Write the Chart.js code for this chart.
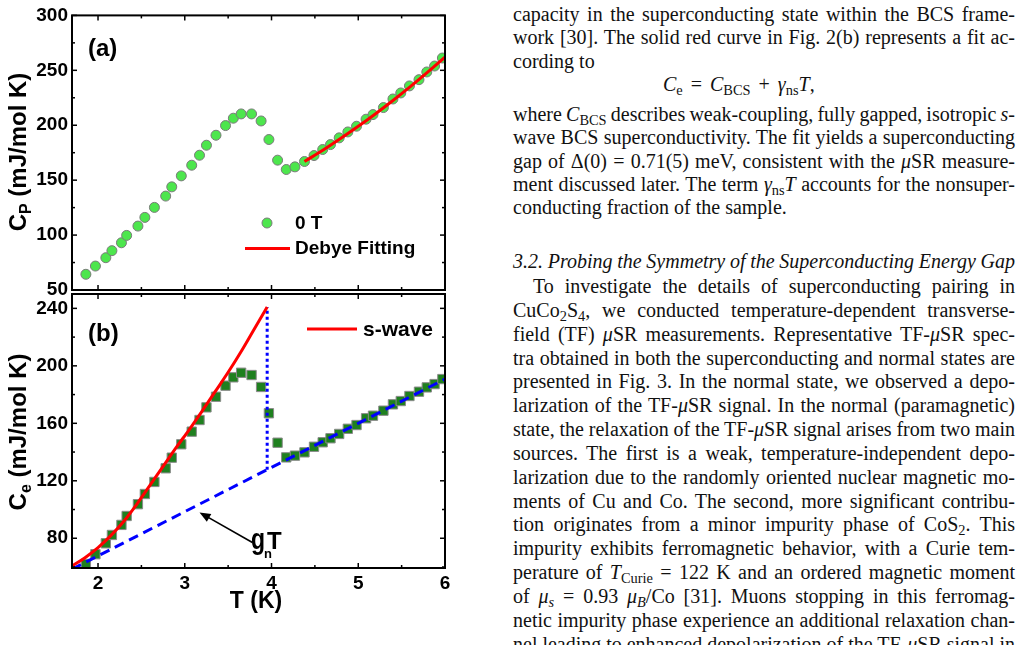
<!DOCTYPE html>
<html><head><meta charset="utf-8">
<script src="https://cdn.jsdelivr.net/npm/chart.js@4.4.1/dist/chart.umd.min.js"></script>
<style>
html,body{margin:0;padding:0;background:#fff;width:1022px;height:645px;overflow:hidden;position:relative}
canvas{position:absolute;left:0}
#ca{top:0}
#cb{top:275px}
.txt{position:absolute;left:513px;width:502px;font-family:"Liberation Serif","Times New Roman",serif;font-size:20px;color:#111}
.ln{height:23.3px;line-height:23.3px;white-space:nowrap}
.ln span.in{display:inline-block}
.b3 .ln{height:23.85px;line-height:23.85px}
.ind{padding-left:20px}
.op{margin:0 8px}
sub{font-size:0.72em;vertical-align:-0.25em;line-height:0}
</style>
</head><body>
<canvas id="ca" width="460" height="306"></canvas>
<canvas id="cb" width="460" height="370"></canvas>

<div class="txt" style="top:3px">
<div class="ln j"><span class="in">capacity in the superconducting state within the BCS frame-</span></div>
<div class="ln j"><span class="in">work [30]. The solid red curve in Fig. 2(b) represents a fit ac-</span></div>
<div class="ln"><span class="in">cording to</span></div>
</div>
<div class="txt" style="top:73px;left:663px;width:220px"><div class="ln"><i>C</i><sub>e</sub><span class="op">=</span><i>C</i><sub>BCS</sub><span class="op">+</span><i>γ</i><sub>ns</sub><i>T</i>,</div></div>
<div class="txt" style="top:103px">
<div class="ln j"><span class="in">where <i>C</i><sub>BCS</sub> describes weak-coupling, fully gapped, isotropic <i>s</i>-</span></div>
<div class="ln j"><span class="in">wave BCS superconductivity. The fit yields a superconducting</span></div>
<div class="ln j"><span class="in">gap of Δ(0) = 0.71(5) meV, consistent with the <i>μ</i>SR measure-</span></div>
<div class="ln j"><span class="in">ment discussed later. The term <i>γ</i><sub>ns</sub><i>T</i> accounts for the nonsuper-</span></div>
<div class="ln"><span class="in">conducting fraction of the sample.</span></div>
</div>
<div class="txt" style="top:250px"><div class="ln j"><span class="in"><i>3.2. Probing the Symmetry of the Superconducting Energy Gap</i></span></div></div>
<div class="txt b3" style="top:275px">
<div class="ln j ind"><span class="in">To investigate the details of superconducting pairing in</span></div>
<div class="ln j"><span class="in">CuCo<sub>2</sub>S<sub>4</sub>, we conducted temperature-dependent transverse-</span></div>
<div class="ln j"><span class="in">field (TF) <i>μ</i>SR measurements. Representative TF-<i>μ</i>SR spec-</span></div>
<div class="ln j"><span class="in">tra obtained in both the superconducting and normal states are</span></div>
<div class="ln j"><span class="in">presented in Fig. 3. In the normal state, we observed a depo-</span></div>
<div class="ln j"><span class="in">larization of the TF-<i>μ</i>SR signal. In the normal (paramagnetic)</span></div>
<div class="ln j"><span class="in">state, the relaxation of the TF-<i>μ</i>SR signal arises from two main</span></div>
<div class="ln j"><span class="in">sources. The first is a weak, temperature-independent depo-</span></div>
<div class="ln j"><span class="in">larization due to the randomly oriented nuclear magnetic mo-</span></div>
<div class="ln j"><span class="in">ments of Cu and Co. The second, more significant contribu-</span></div>
<div class="ln j"><span class="in">tion originates from a minor impurity phase of CoS<sub>2</sub>. This</span></div>
<div class="ln j"><span class="in">impurity exhibits ferromagnetic behavior, with a Curie tem-</span></div>
<div class="ln j"><span class="in">perature of <i>T</i><sub>Curie</sub> = 122 K and an ordered magnetic moment</span></div>
<div class="ln j"><span class="in">of <i>μ<sub>s</sub></i> = 0.93 <i>μ<sub>B</sub></i>/Co [31]. Muons stopping in this ferromag-</span></div>
<div class="ln j"><span class="in">netic impurity phase experience an additional relaxation chan-</span></div>
<div class="ln j"><span class="in">nel leading to enhanced depolarization of the TF-<i>μ</i>SR signal in</span></div>
</div>

<script>
// justify each typeset line to the 502 px column by adjusting word spacing
document.querySelectorAll('.ln.j').forEach(ln=>{
  const inner = ln.querySelector('.in');
  const avail = ln.clientWidth - (ln.classList.contains('ind') ? 20 : 0);
  const nat = inner.getBoundingClientRect().width;
  const spaces = (inner.textContent.match(/ /g) || []).length;
  if (spaces > 0) inner.style.wordSpacing = ((avail - nat) / spaces) + 'px';
});

// ---- data ----
const tempK = [1.86,1.97,2.09,2.16,2.27,2.33,2.46,2.54,2.65,2.78,2.85,2.96,3.08,3.17,3.25,3.36,3.47,3.56,3.65,3.77,3.88,3.97,4.07,4.17,4.27,4.38,4.49,4.59,4.68,4.78,4.88,4.98,5.09,5.17,5.29,5.40,5.49,5.59,5.70,5.79,5.88,5.97];
const cpZeroField = [64.3,71.8,79.4,85.8,93.0,99.7,108.2,116.1,125.2,135.5,143.9,153.9,163.6,172.7,181.8,190.9,199.7,206.4,210.3,210.3,203.9,187.0,168.2,159.7,162.1,167.0,172.4,177.9,182.4,188.5,193.9,199.1,205.5,209.7,216.1,223.9,229.4,235.8,241.5,248.5,253.9,261.2];
const ceElectronic = [62.1,68.9,76.5,82.3,89.3,95.5,103.7,110.8,119.2,128.7,136.1,145.4,154.2,162.3,171.1,178.5,186.2,192.0,195.2,193.6,185.3,167.0,146.5,136.3,137.5,139.8,143.7,146.8,149.6,152.6,156.2,158.8,163.5,165.3,168.8,173.2,175.5,179.0,182.0,185.0,187.3,190.8];
const debyeT = [4.38,4.6,4.8,5.0,5.2,5.4,5.6,5.8,6.0];
const debyeCp = [167,177.7,188.1,199,210.5,222.5,235.1,248.3,262];
const swaveT = [1.70,1.85,2.00,2.15,2.30,2.45,2.60,2.75,2.90,3.05,3.20,3.35,3.50,3.65,3.80,3.95];
const swaveCe = [60.7,66.5,73.5,82,92,104,117,130,143,155.5,168.5,182,195.5,210,225.5,241];
const gammaT = [1.7,6.0];
const gammaCe = [58.5,190.8];
const jumpT = [3.95,3.95];
const jumpCe = [127.7,241];
const arrowTail = [3.78,77];
const arrowHead = [3.17,98];
const xTicks = [2,3,4,5,6];
const xMinor = [2.5,3.5,4.5,5.5];
const yTicksA = [50,100,150,200,250,300];
const yMinorA = [75,125,175,225,275];
const yTicksB = [80,120,160,200,240];
const yMinorB = [60,100,140,180,220];

const FONT = '"Liberation Sans", Arial, sans-serif';
const zip = (xs, ys) => xs.map((x,i)=>({x, y: ys[i]}));

function frameTicks(xMaj, xMin, yMaj, yMin){
  return {
    id:'frameTicks',
    afterDatasetsDraw(chart){
      const {ctx, chartArea:a, scales:{x,y}} = chart;
      ctx.save();
      ctx.strokeStyle='#000';
      ctx.lineWidth=1.5;
      const seg=(x1,y1,x2,y2)=>{ctx.beginPath();ctx.moveTo(x1,y1);ctx.lineTo(x2,y2);ctx.stroke();};
      const tx=(v,len)=>{const p=x.getPixelForValue(v); if(p<a.left||p>a.right) return; seg(p,a.bottom,p,a.bottom-len); seg(p,a.top,p,a.top+len);};
      const ty=(v,len)=>{const p=y.getPixelForValue(v); if(p<a.top||p>a.bottom) return; seg(a.left,p,a.left+len,p); seg(a.right,p,a.right-len,p);};
      xMaj.forEach(v=>tx(v,5)); xMin.forEach(v=>tx(v,3));
      yMaj.forEach(v=>ty(v,5)); yMin.forEach(v=>ty(v,3));
      ctx.lineWidth=2;
      ctx.strokeRect(a.left,a.top,a.right-a.left,a.bottom-a.top);
      ctx.restore();
    }
  };
}

function yTitle(ctx, cx, cy, main, sub, rest, size){
  ctx.save();
  ctx.translate(cx, cy);
  ctx.rotate(-Math.PI/2);
  ctx.fillStyle='#000';
  const fMain = 'bold '+size+'px '+FONT, fSub = 'bold '+Math.round(size*0.65)+'px '+FONT;
  ctx.font=fMain; const w1=ctx.measureText(main).width, w3=ctx.measureText(rest).width;
  ctx.font=fSub; const w2=ctx.measureText(sub).width;
  let x0 = -(w1+w2+w3)/2; const base = size*0.358;
  ctx.textBaseline='alphabetic'; ctx.textAlign='left';
  ctx.font=fMain; ctx.fillText(main,x0,base); x0+=w1;
  ctx.font=fSub; ctx.fillText(sub,x0,base+size*0.22); x0+=w2;
  ctx.font=fMain; ctx.fillText(rest,x0,base);
  ctx.restore();
}

const tickFont = {family: FONT, weight:'bold', size:19};

const annotA = {
  id:'annotA',
  afterDatasetsDraw(chart){
    const ctx = chart.ctx;
    ctx.save();
    ctx.fillStyle='#000';
    ctx.textBaseline='middle'; ctx.textAlign='left';
    ctx.font='bold 24px '+FONT;
    ctx.fillText('(a)', 88, 49);
    // legend
    ctx.beginPath(); ctx.arc(267,223,5,0,Math.PI*2);
    ctx.fillStyle='#4de64d'; ctx.fill(); ctx.strokeStyle='#7a7a7a'; ctx.lineWidth=1; ctx.stroke();
    ctx.strokeStyle='#ff0000'; ctx.lineWidth=3;
    ctx.beginPath(); ctx.moveTo(245,248.5); ctx.lineTo(290,248.5); ctx.stroke();
    ctx.fillStyle='#000';
    ctx.font='bold 19px '+FONT;
    ctx.fillText('0 T', 295, 224);
    ctx.fillText('Debye Fitting', 295, 249);
    ctx.restore();
    yTitle(ctx, 17, 152, 'C', 'P', ' (mJ/mol K)', 24);
  }
};

const annotB = {
  id:'annotB',
  afterDatasetsDraw(chart){
    const {ctx, scales:{x,y}} = chart;
    ctx.save();
    ctx.fillStyle='#000';
    ctx.textBaseline='middle'; ctx.textAlign='left';
    ctx.font='bold 24px '+FONT;
    ctx.fillText('(b)', 88, 59);
    ctx.strokeStyle='#ff0000'; ctx.lineWidth=3;
    ctx.beginPath(); ctx.moveTo(307,54); ctx.lineTo(357,54); ctx.stroke();
    ctx.font='bold 21px '+FONT;
    ctx.fillText('s-wave', 363, 55);
    // arrow
    const x1=x.getPixelForValue(arrowTail[0]), y1=y.getPixelForValue(arrowTail[1]);
    const x2=x.getPixelForValue(arrowHead[0]), y2=y.getPixelForValue(arrowHead[1]);
    const ang=Math.atan2(y2-y1,x2-x1);
    ctx.strokeStyle='#000'; ctx.lineWidth=1.6;
    ctx.beginPath(); ctx.moveTo(x1,y1); ctx.lineTo(x2-7*Math.cos(ang), y2-7*Math.sin(ang)); ctx.stroke();
    ctx.beginPath();
    ctx.moveTo(x2,y2);
    ctx.lineTo(x2-11*Math.cos(ang)+4.5*Math.sin(ang), y2-11*Math.sin(ang)-4.5*Math.cos(ang));
    ctx.lineTo(x2-11*Math.cos(ang)-4.5*Math.sin(ang), y2-11*Math.sin(ang)+4.5*Math.cos(ang));
    ctx.closePath(); ctx.fill();
    // gamma_n T label
    ctx.textBaseline='alphabetic';
    ctx.save();
    ctx.translate(251, 273.5); ctx.scale(1, 1.3);
    ctx.font='bold 23px '+FONT; ctx.fillText('g', 0, 0);
    ctx.restore();
    ctx.font='bold 13px '+FONT; ctx.fillText('n', 264, 283);
    ctx.font='bold 24px '+FONT; ctx.fillText('T', 267, 274);
    // x title
    ctx.textAlign='center'; ctx.textBaseline='middle';
    ctx.font='bold 23px '+FONT; ctx.fillText('T (K)', 256, 327);
    ctx.restore();
    yTitle(ctx, 17, 157, 'C', 'e', ' (mJ/mol K)', 24);
  }
};

new Chart(document.getElementById('ca'), {
  type:'scatter',
  data:{datasets:[
    {label:'Debye Fitting', data: zip(debyeT, debyeCp), showLine:true, borderColor:'#ff0000', borderWidth:3, pointRadius:0, tension:0.4, cubicInterpolationMode:'monotone'},
    {label:'0 T', data: zip(tempK, cpZeroField), pointStyle:'circle', pointRadius:5, backgroundColor:'#4de64d', borderColor:'#7a7a7a', borderWidth:1}
  ]},
  options:{
    responsive:false, animation:false, devicePixelRatio:1,
    layout:{padding:{left:0,right:15,top:15,bottom:16}},
    plugins:{legend:{display:false}, tooltip:{enabled:false}},
    scales:{
      x:{type:'linear', min:1.7, max:6, display:false},
      y:{type:'linear', min:50, max:300,
         afterBuildTicks:s=>{s.ticks=yTicksA.map(v=>({value:v}));},
         afterFit:s=>{s.width=72;},
         grid:{display:false, drawTicks:false}, border:{display:false},
         ticks:{font:tickFont, color:'#000', padding:4}}
    }
  },
  plugins:[frameTicks(xTicks,xMinor,yTicksA,yMinorA), annotA]
});

new Chart(document.getElementById('cb'), {
  type:'scatter',
  data:{datasets:[
    {label:'s-wave', data: zip(swaveT, swaveCe), showLine:true, borderColor:'#ff0000', borderWidth:3, pointRadius:0, tension:0.4, cubicInterpolationMode:'monotone'},
    {label:'jump', data: zip(jumpT, jumpCe), showLine:true, borderColor:'#0000ff', borderWidth:3, borderDash:[3,3], pointRadius:0},
    {label:'gamma_n T', data: zip(gammaT, gammaCe), showLine:true, borderColor:'#0000ff', borderWidth:3, borderDash:[10,6], pointRadius:0},
    {label:'Ce', data: zip(tempK, ceElectronic), pointStyle:'rect', pointRadius:6.6, backgroundColor:'#1f801f', borderColor:'#8a8a8a', borderWidth:1}
  ]},
  options:{
    responsive:false, animation:false, devicePixelRatio:1,
    layout:{padding:{left:0,right:15,top:19,bottom:47}},
    plugins:{legend:{display:false}, tooltip:{enabled:false}},
    scales:{
      x:{type:'linear', min:1.7, max:6,
         afterBuildTicks:s=>{s.ticks=xTicks.map(v=>({value:v}));},
         afterFit:s=>{s.height=30;},
         grid:{display:false, drawTicks:false}, border:{display:false},
         ticks:{font:tickFont, color:'#000', padding:4, maxRotation:0}},
      y:{type:'linear', min:59.3, max:250,
         afterBuildTicks:s=>{s.ticks=yTicksB.map(v=>({value:v}));},
         afterFit:s=>{s.width=72;},
         grid:{display:false, drawTicks:false}, border:{display:false},
         ticks:{font:tickFont, color:'#000', padding:4}}
    }
  },
  plugins:[frameTicks(xTicks,xMinor,yTicksB,yMinorB), annotB]
});
</script>
</body></html>
